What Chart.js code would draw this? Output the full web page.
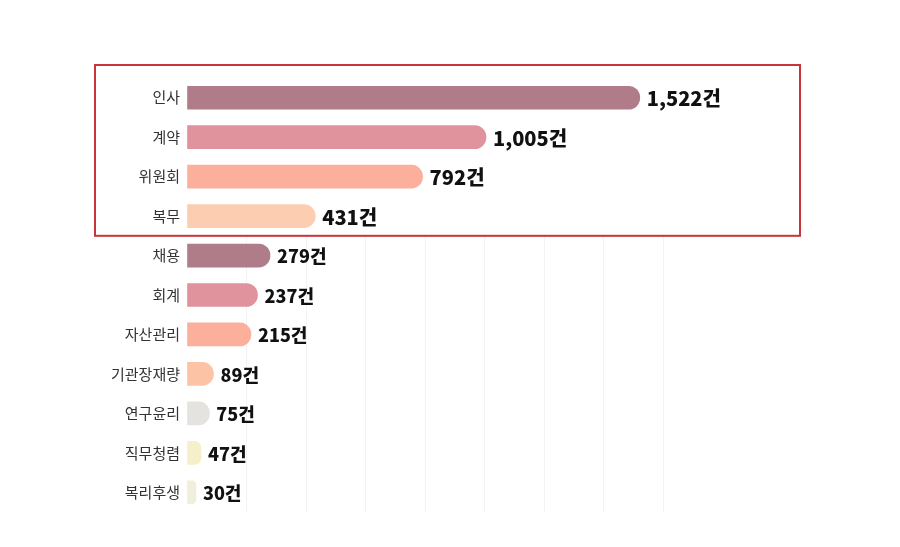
<!DOCTYPE html>
<html>
<head>
<meta charset="utf-8">
<script src="https://cdn.jsdelivr.net/npm/chart.js@4"></script>
<style>
    html, body { margin: 0; padding: 0; background: #ffffff; }
    #wrap { width: 900px; height: 547px; }
</style>
</head>
<body>
<div id="wrap"><canvas id="caseChart"></canvas></div>
<script>
// Categories and counts (건)
const categories = ["인사", "계약", "위원회", "복무", "채용", "회계", "자산관리", "기관장재량", "연구윤리", "직무청렴", "복리후생"];
const counts = [1522, 1005, 792, 431, 279, 237, 215, 89, 75, 47, 30];
const barColors = ["#b07c8a", "#e0939d", "#fcb09c", "#fccdb0", "#b07c8a", "#e0939d", "#fcb09c", "#fcc3a4", "#e5e3df", "#f5f0c9", "#f0efdc"];
const highlightCount = 4;   // first four rows are boxed

const FONT = "'Noto Sans CJK KR', 'Noto Sans', sans-serif";

// Box geometry taken from the y scale
function boxRect(chart) {
    const y = chart.scales.y;
    const area = chart.chartArea;
    const step = y.getPixelForValue(1) - y.getPixelForValue(0);
    const top = y.getPixelForValue(0) - step / 2 - 13;
    const bottom = y.getPixelForValue(highlightCount - 1) + step / 2;
    const left = area.left - 92;
    const right = area.right + 137;
    return { left, top, right, bottom, w: right - left, h: bottom - top };
}

// Value labels at the end of each bar
const valueLabels = {
    id: "valueLabels",
    afterDatasetsDraw(chart) {
        const ctx = chart.ctx;
        const meta = chart.getDatasetMeta(0);
        ctx.save();
        ctx.fillStyle = "#111111";
        ctx.textBaseline = "middle";
        ctx.textAlign = "left";
        meta.data.forEach((bar, i) => {
            const size = i < highlightCount ? 20 : 18;
            ctx.font = "900 " + size + "px " + FONT;
            ctx.fillText(counts[i].toLocaleString("en-US") + "건", bar.x + 7, bar.y + 1);
        });
        ctx.restore();
    }
};

// Red box around the top rows (grid hidden inside it)
const highlightBox = {
    id: "highlightBox",
    beforeDatasetsDraw(chart) {
        const r = boxRect(chart);
        const ctx = chart.ctx;
        ctx.save();
        ctx.fillStyle = "#ffffff";
        ctx.fillRect(chart.chartArea.left, r.top, r.right - chart.chartArea.left, r.h);
        ctx.restore();
    },
    afterDraw(chart) {
        const r = boxRect(chart);
        const ctx = chart.ctx;
        ctx.save();
        ctx.strokeStyle = "#c7343a";
        ctx.lineWidth = 2;
        ctx.strokeRect(r.left, r.top, r.w, r.h);
        ctx.restore();
    }
};

new Chart(document.getElementById("caseChart"), {
    type: "bar",
    data: {
        labels: categories,
        datasets: [{
            data: counts,
            backgroundColor: barColors,
            borderRadius: { topRight: 12, bottomRight: 12, topLeft: 0, bottomLeft: 0 },
            borderSkipped: false,
            barThickness: 23
        }]
    },
    options: {
        indexAxis: "y",
        responsive: true,
        maintainAspectRatio: false,
        animation: false,
        layout: {
            padding: { top: 78, bottom: 35, left: 0, right: 237 }
        },
        scales: {
            x: {
                min: 0,
                max: 1600,
                ticks: { display: false, stepSize: 200 },
                grid: {
                    color: (c) => c.index === 0 ? "rgba(0,0,0,0)" : "#f3f3f3",
                    drawTicks: false
                },
                border: { display: false }
            },
            y: {
                afterFit(scale) { scale.width = 187; },
                ticks: {
                    color: "#333333",
                    padding: 7,
                    font: { family: FONT, size: 15 }
                },
                grid: { display: false, drawTicks: false },
                border: { display: false }
            }
        },
        plugins: {
            legend: { display: false },
            tooltip: { enabled: false }
        }
    },
    plugins: [valueLabels, highlightBox]
});
</script>
</body>
</html>
